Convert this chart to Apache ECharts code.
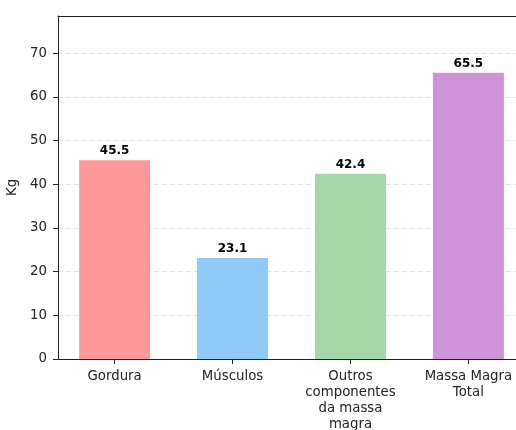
<!DOCTYPE html>
<html>
<head>
<meta charset="utf-8">
<script src="https://cdn.jsdelivr.net/npm/echarts@6/dist/echarts.min.js"></script>
<style>
  html, body { margin: 0; padding: 0; background: #fff; overflow: hidden; }
  #chart { width: 540px; height: 430px; }
</style>
</head>
<body>
<div id="chart"></div>
<script>
// Body composition breakdown (kg)
const categories = ['Gordura', 'Músculos', 'Outros\ncomponentes\nda massa\nmagra', 'Massa Magra\nTotal'];
const values = [45.5, 23.1, 42.4, 65.5];
const barColors = ['#ff9999', '#90caf9', '#a5d6a7', '#ce93d8'];
const yTicks = [0, 10, 20, 30, 40, 50, 60, 70];
const xPositions = categories.map((_, i) => i);

const chart = echarts.init(document.getElementById('chart'));
const font = 'DejaVu Sans';
const ink = '#222';

chart.setOption({
  animation: false,
  grid: {
    left: 58, top: 16, bottom: 71, width: 467,
    outerBoundsMode: 'none',
    containLabel: false
  },
  xAxis: [{
    // bars sit at integer positions, with a small margin on each side
    type: 'value',
    min: -0.48, max: 3.48,
    axisLine: { show: true, onZero: false, lineStyle: { color: ink, width: 1 } },
    axisTick: { show: true, length: 5, lineStyle: { color: ink }, customValues: xPositions },
    axisLabel: {
      color: ink, fontFamily: font, fontSize: 13.3, lineHeight: 16, margin: 10,
      customValues: xPositions,
      formatter: v => categories[Math.round(v)]
    },
    splitLine: { show: false }
  }, {
    // top frame line
    type: 'value',
    min: -0.48, max: 3.48,
    position: 'top',
    axisLine: { show: true, onZero: false, lineStyle: { color: ink, width: 1 } },
    axisTick: { show: false },
    axisLabel: { show: false },
    splitLine: { show: false }
  }],
  yAxis: {
    type: 'value',
    position: 'left',
    min: 0, max: 78.5, interval: 10,
    name: 'Kg',
    nameLocation: 'middle',
    nameRotate: 90,
    nameGap: 30,
    nameTextStyle: { color: ink, fontFamily: font, fontSize: 13.3 },
    axisLine: { show: true, onZero: false, lineStyle: { color: ink, width: 1 } },
    axisTick: { show: true, length: 5, lineStyle: { color: ink }, customValues: yTicks },
    axisLabel: {
      color: ink, fontFamily: font, fontSize: 13.3, margin: 11, customValues: yTicks
    },
    splitLine: { show: true, lineStyle: { color: '#e3e3e3', type: [5, 3], width: 1 } }
  },
  series: [{
    type: 'bar',
    barWidth: 71,
    data: values.map((v, i) => ({ value: [i, v], itemStyle: { color: barColors[i] } })),
    label: {
      show: true, position: 'top', distance: 3,
      color: '#000', fontFamily: font, fontWeight: 'bold', fontSize: 12,
      formatter: p => p.value[1].toFixed(1)
    }
  }]
});
</script>
</body>
</html>
